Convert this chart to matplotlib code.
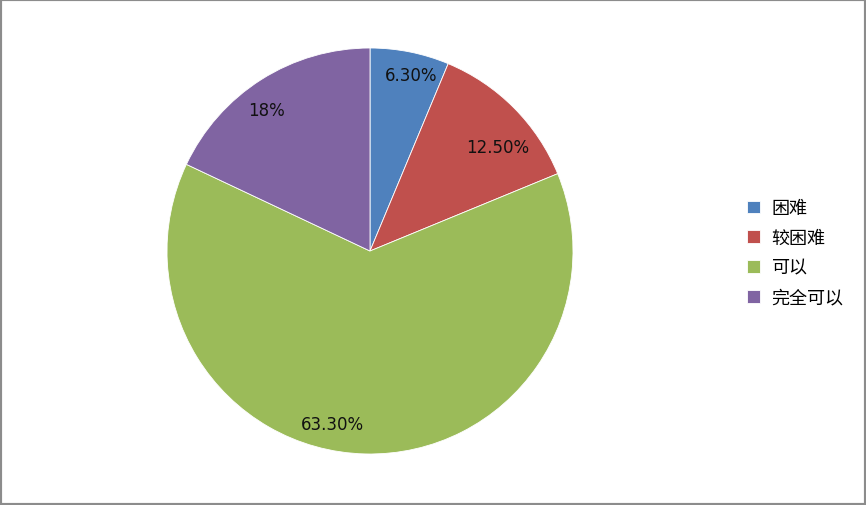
import numpy as np
import matplotlib.pyplot as plt
from matplotlib.patches import Rectangle

plt.rcParams['font.family'] = ['Noto Sans CJK SC', 'DejaVu Sans']

categories = ['困难', '较困难', '可以', '完全可以']
values = [6.3, 12.5, 63.3, 18]
pct_labels = ['6.30%', '12.50%', '63.30%', '18%']
colors = ['#4F81BD', '#C0504D', '#9BBB59', '#8064A2']
# nudge of each label (points) away from the slice midpoint, like Excel's best fit
label_nudge = [(5, 3.5), (3, -14), (-24, 1), (-7, -5)]

fig = plt.figure(figsize=(8.66, 5.06), dpi=100)
ax = fig.add_axes([167 / 866, 51 / 506, 406 / 866, 406 / 506])

wedges, _ = ax.pie(values, colors=colors, startangle=90, counterclock=False,
                   wedgeprops=dict(edgecolor='white', linewidth=0.6))
ax.set_xlim(-1, 1)
ax.set_ylim(-1, 1)
ax.set_aspect('equal')

# percentage labels, placed inside each slice
total = sum(values)
start = 90.0
for v, lab, nd in zip(values, pct_labels, label_nudge):
    mid = np.deg2rad(start - v / total * 360 / 2)
    start -= v / total * 360
    r = 0.86
    ax.annotate(lab, (r * np.cos(mid), r * np.sin(mid)), xytext=nd,
                textcoords='offset points', ha='center', va='center',
                fontsize=12, color='#111111', family=['DejaVu Sans'])

leg = fig.legend(wedges, categories, loc='center left',
                 bbox_to_anchor=(731 / 866, 252 / 506), frameon=False,
                 fontsize=13, handlelength=0.7, handleheight=0.7,
                 handletextpad=0.65, labelspacing=0.65)

fig.patches.append(Rectangle((0, 0), 1, 1, transform=fig.transFigure,
                             fill=False, edgecolor='#8c8c8c', linewidth=3))

fig.savefig('out.png', dpi=100)
